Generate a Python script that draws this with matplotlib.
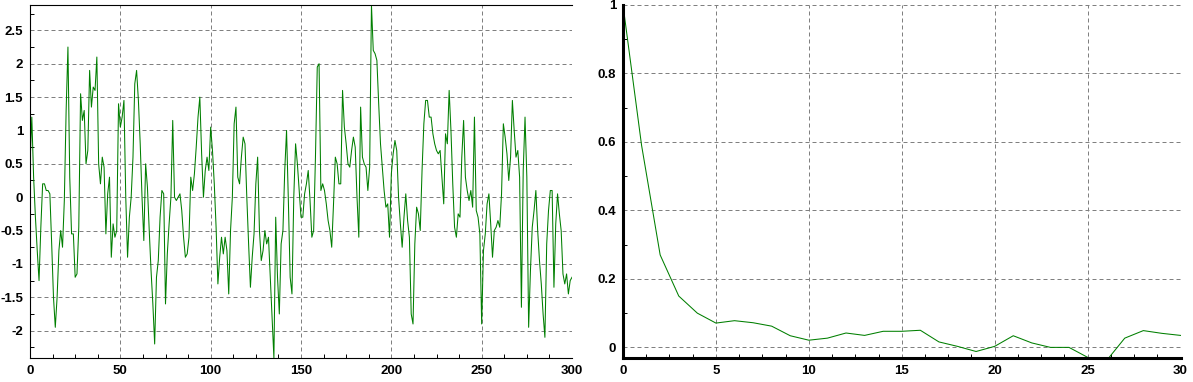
import numpy as np
import matplotlib
matplotlib.use("Agg")
import matplotlib.pyplot as plt
from matplotlib.ticker import MultipleLocator, FuncFormatter

plt.rcParams["font.family"] = ["Liberation Sans", "DejaVu Sans"]
plt.rcParams["font.weight"] = "bold"
plt.rcParams["font.size"] = 9.5

# serie temporal (panel izquierdo), un valor por instante 0..300
serie = [
    0.5, 1.2, 0.3, -0.3, -0.8, -1.25, -0.45, 0.2, 0.2, 0.1,
    0.1, 0.05, -0.7, -1.5, -1.95, -1.5, -0.8, -0.5, -0.75, -0.05,
    1.3, 2.25, 0.3, -0.55, -0.55, -1.2, -1.15, -0.45, 1.55, 1.15,
    1.3, 0.5, 0.7, 1.9, 1.35, 1.65, 1.6, 2.1, 0.5, 0.2,
    0.6, 0.45, -0.55, 0.05, 0.3, -0.9, -0.4, -0.6, -0.5, 1.4,
    1.05, 1.2, 1.45, 0.0, -0.9, -0.3, 0.0, 0.6, 1.7, 1.9,
    1.45, 0.8, 0.0, -0.65, 0.5, 0.15, -0.5, -1.1, -1.6, -2.2,
    -1.2, -0.95, -0.3, 0.1, 0.05, -1.6, -0.85, -0.4, 0.0, 1.15,
    0.0, -0.05, 0.0, 0.05, -0.2, -0.6, -0.9, -0.85, -0.6, 0.3,
    0.1, 0.35, 0.75, 1.2, 1.5, 0.65, 0.0, 0.4, 0.6, 0.4,
    1.05, 0.7, 0.2, -0.45, -1.3, -0.9, -0.6, -0.85, -0.6, -0.8,
    -1.45, -0.5, 0.0, 1.1, 1.35, 0.3, 0.2, 0.6, 0.9, 0.8,
    0.0, -0.7, -1.35, -0.9, -0.55, 0.2, 0.6, -0.5, -0.95, -0.8,
    -0.5, -0.7, -0.6, -1.2, -1.8, -2.41, -0.3, -1.2, -1.75, -0.7,
    -0.5, 0.4, 1.0, -0.05, -1.2, -1.45, 0.0, 0.8, 0.5, 0.1,
    -0.3, -0.3, 0.05, 0.2, 0.4, -0.05, -0.6, -0.5, 0.6, 1.95,
    2.0, 0.1, 0.2, 0.1, -0.1, -0.35, -0.5, -0.75, -0.1, 0.6,
    0.5, 0.2, 0.2, 1.6, 1.05, 0.8, 0.5, 0.45, 0.7, 0.9,
    0.75, 0.0, -0.6, 1.35, 0.6, 0.5, 0.45, 0.1, 0.45, 2.88,
    2.2, 2.15, 2.05, 1.4, 0.8, 0.45, 0.1, -0.15, -0.1, -0.6,
    0.35, 0.65, 0.85, 0.7, 0.0, -0.4, -0.75, -0.3, 0.05, -0.35,
    -0.6, -1.75, -1.9, -0.7, -0.15, -0.25, -0.5, 0.4, 1.1, 1.45,
    1.45, 1.2, 1.2, 0.95, 0.8, 0.7, 0.65, 0.7, 0.3, -0.1,
    0.95, 0.8, 1.6, 1.0, 0.2, -0.45, -0.6, -0.25, -0.3, 0.6,
    1.15, 0.3, 0.1, -0.05, 0.1, -0.15, 1.2, -0.2, -0.3, -0.55,
    -1.9, -0.8, -0.55, -0.1, 0.05, -0.4, -0.9, -0.5, -0.45, -0.35,
    -0.45, 0.05, 1.1, 0.9, 0.65, 0.25, 0.6, 1.45, 1.0, 0.6,
    0.7, 0.3, -1.65, 0.4, 1.2, 0.3, -1.95, -1.1, -0.45, -0.2,
    0.1, -0.5, -0.95, -1.3, -1.75, -2.1, -0.7, -0.2, 0.1, 0.1,
    -1.35, -0.4, 0.05, -0.25, -0.5, -1.15, -1.3, -1.15, -1.45, -1.25,
    -1.2,
]

# autocorrelacion (panel derecho), retardos 0..30
acf = [1.0, 0.59, 0.27, 0.15, 0.10, 0.071, 0.078, 0.072, 0.062, 0.034,
       0.021, 0.027, 0.042, 0.035, 0.047, 0.047, 0.05, 0.016, 0.003, -0.012,
       0.003, 0.034, 0.013, 0.0, 0.0, -0.029, -0.04, 0.027, 0.049, 0.041,
       0.035]

verde = "#007f00"
fmt = FuncFormatter(lambda v, p: f"{v:g}")

fig = plt.figure(figsize=(11.93, 3.82), dpi=100)
ax1 = fig.add_axes([30 / 1193, 1 - 358 / 382, 542 / 1193, 353 / 382])
ax2 = fig.add_axes([623 / 1193, 1 - 358 / 382, 557.5 / 1193, 353 / 382])


def estilo(ax, ancho):
    ax.grid(True, which="major", color="#808080", linestyle=(0, (4, 3)), linewidth=0.72)
    ax.set_axisbelow(True)
    ax.spines["right"].set_visible(False)
    for s in ("left", "bottom"):
        ax.spines[s].set_linewidth(ancho)
    ax.tick_params(which="major", length=0, pad=5)
    ax.tick_params(which="minor", direction="in", length=3, width=0.7,
                   top=False, right=False)
    ax.xaxis.set_major_formatter(fmt)
    ax.yaxis.set_major_formatter(fmt)


# panel izquierdo: serie
x = np.arange(len(serie))
ax1.plot(x, serie, color=verde, linewidth=0.75)
ax1.set_xlim(0, 300)
ax1.set_ylim(min(serie), max(serie))
ax1.xaxis.set_major_locator(MultipleLocator(50))
ax1.xaxis.set_minor_locator(MultipleLocator(12.5))
ax1.yaxis.set_major_locator(MultipleLocator(0.5))
ax1.yaxis.set_minor_locator(MultipleLocator(0.25))
ax1.spines["top"].set_linewidth(0.8)
estilo(ax1, 0.8)

# panel derecho: autocorrelacion
lags = np.arange(len(acf))
ax2.plot(lags, acf, color=verde, linewidth=0.75)
ax2.set_xlim(0, 30)
ax2.set_ylim(-0.031, 1.0)
ax2.xaxis.set_major_locator(MultipleLocator(5))
ax2.xaxis.set_minor_locator(MultipleLocator(1.25))
ax2.yaxis.set_major_locator(MultipleLocator(0.2))
ax2.yaxis.set_minor_locator(MultipleLocator(0.1))
ax2.spines["top"].set_visible(False)
estilo(ax2, 2.2)

fig.savefig("out.png", dpi=100, facecolor="white")
